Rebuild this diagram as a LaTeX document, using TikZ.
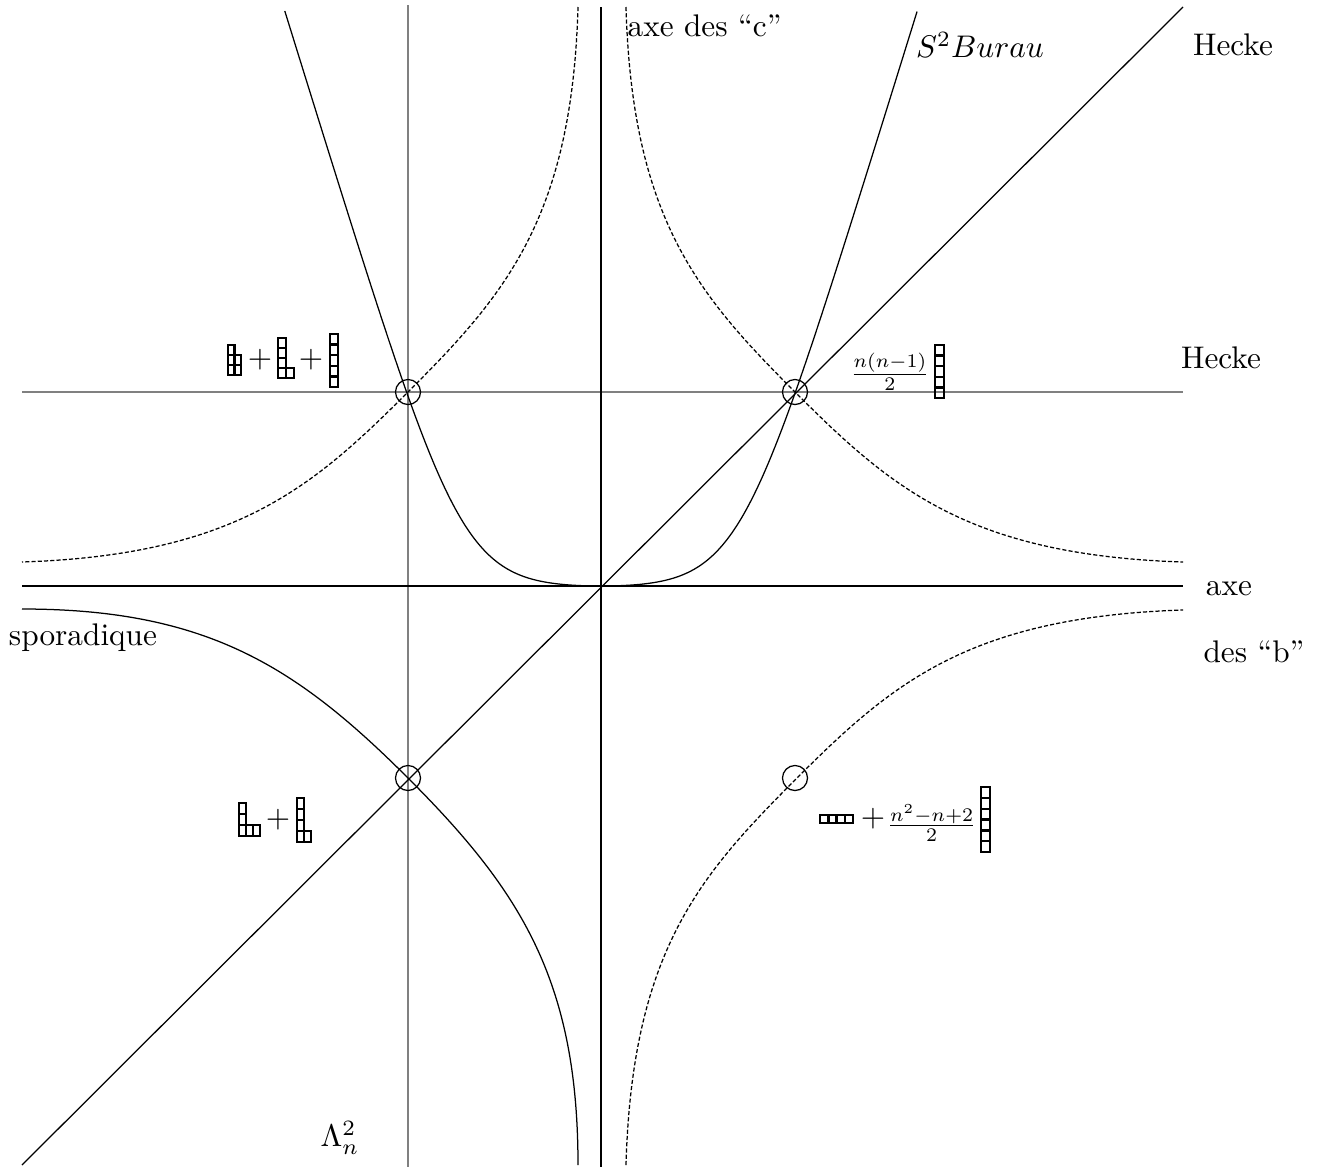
\documentclass[tikz,border=0pt]{standalone}
\usetikzlibrary{calc}
\tikzset{
  axisline/.style={line width=0.8pt, black},
  guide/.style={line width=0.55pt, black!50},
  thincurve/.style={line width=0.4pt, black},
  dashcurve/.style={line width=0.4pt, black, dash pattern=on 1.3pt off 0.7pt},
  markcirc/.style={draw, circle, line width=0.4pt, minimum size=8pt, inner sep=0pt},
  ybox/.style={draw, line width=0.8pt},
  lbl/.style={inner sep=0pt},
  frac/.style={inner sep=0pt, scale=0.88},
}
\newcommand\ydiag[5]{%
  \foreach \len [count=\j from 0] in {#5}{%
    \foreach \i in {1,...,\len}{%
      \draw[ybox] ({#1+(\i-1)*#3},{#2-\j*#4}) rectangle ++(#3,-#4);}}}
\begin{document}
\begin{tikzpicture}[x=0.3197pt,y=-0.3197pt]
\useasboundingbox (0,0) rectangle (1319,1167);
% endpoints
\coordinate (hL) at (22,586);   \coordinate (hR) at (1183,586);
\coordinate (vT) at (601,7);    \coordinate (vB) at (601,1167);
\coordinate (gvT) at (408,5);   \coordinate (gvB) at (408,1167);
\coordinate (ghL) at (22,392);  \coordinate (ghR) at (1183,392);
\coordinate (dBL) at (22,1165); \coordinate (dTR) at (1183,7);
% guides
\draw[guide] (gvT) -- (gvB);
\draw[guide] (ghL) -- (ghR);
% axes
\draw[axisline] (hL) -- (hR);
\draw[axisline] (vT) -- (vB);
% diagonal
\draw[thincurve] (dBL) -- (dTR);
% upper solid curve (smoothed hinge, even)
\draw[thincurve] plot[domain=-1.63:1.63, samples=131, smooth]
  ({601+194*\x}, {586-194*(0.4845*(ln(1+exp((\x-0.71)/0.15))+ln(1+exp((-\x-0.71)/0.15)))-0.0085)});
% lower-left solid curve
\draw[thincurve] (22,609) .. controls (207,609) and (297,667) .. (408,778)
  .. controls (520,890) and (578,980) .. (578,1165);
% dashed curves
\draw[dashcurve] (626,7) .. controls (632,220) and (700,297) .. (795,392)
  .. controls (890,487) and (967,555) .. (1183,562);
\draw[dashcurve] (578,7) .. controls (572,220) and (503,297) .. (408,392)
  .. controls (313,487) and (236,555) .. (22,562);
\draw[dashcurve] (626,1165) .. controls (632,952) and (700,875) .. (795,780)
  .. controls (890,685) and (967,617) .. (1183,610);
% circles
\node[markcirc] (c1) at (408,392) {};
\node[markcirc] (c2) at (795,392) {};
\node[markcirc] (c3) at (408,778) {};
\node[markcirc] (c4) at (795,778) {};
% labels
\node[lbl, anchor=base west] (axc) at (627,36) {axe des ``c''};
\node[lbl] (bur) at (980,45) {$S^2Burau$};
\node[lbl] (hk1) at (1233,45) {Hecke};
\node[lbl] (hk2) at (1221,358) {Hecke};
\node[lbl] (axb1) at (1229,589) {axe};
\node[lbl] (axb2) at (1254,652) {des ``b''};
\node[lbl] (spo) at (83,638) {sporadique};
\node[lbl] (lam) at (340,1138) {$\Lambda_n^2$};
% upper-left Young diagrams
\ydiag{228}{375}{6.5}{10}{2,2,1}
\node[lbl] (p1) at (260,360) {$+$};
\ydiag{278}{378}{8}{10}{2,1,1,1}
\node[lbl] (p2) at (311,360) {$+$};
\ydiag{330}{387}{8}{10.6}{1,1,1,1,1}
% upper-right
\node[frac, anchor=east] (f1) at (930,372) {$\frac{n(n-1)}{2}$};
\ydiag{935}{398}{9}{10.6}{1,1,1,1,1}
% lower-left
\ydiag{239}{836}{7}{11}{3,1,1}
\node[lbl] (p3) at (278,820) {$+$};
\ydiag{297}{842}{7}{11}{2,1,1,1}
% lower-right
\ydiag{820}{823}{8.25}{8}{4}
\node[lbl] (p4) at (873,819) {$+$};
\node[frac, anchor=east] (f2) at (977,823) {$\frac{n^2-n+2}{2}$};
\ydiag{981}{852}{9}{10.8}{1,1,1,1,1,1}
\end{tikzpicture}
\end{document}
